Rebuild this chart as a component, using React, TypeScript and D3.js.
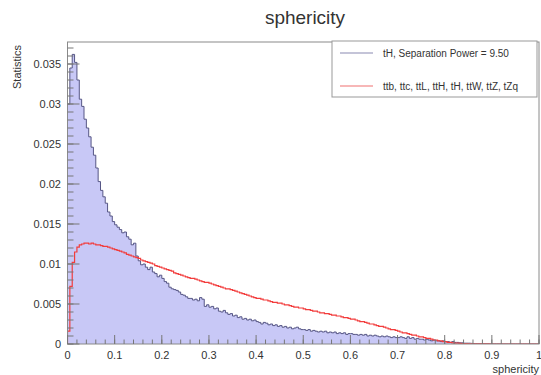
import React from "react";
import * as d3 from "d3";

// ---- data -------------------------------------------------------------
const binEdgesRange: [number, number] = [0, 1];
const nBins = 200;

// tH signal (blue, filled)
const signalValues: number[] = [
  0.0300, 0.0345, 0.0362, 0.0352, 0.0330, 0.0306, 0.0297, 0.0281, 0.0270, 0.0259,
  0.0246, 0.0236, 0.0220, 0.0203, 0.0192, 0.0184, 0.0176, 0.0165, 0.0160, 0.0153,
  0.0149, 0.0146, 0.0143, 0.0139, 0.0140, 0.0134, 0.0131, 0.0124, 0.0126, 0.0110,
  0.0104, 0.0099, 0.0100, 0.0096, 0.0093, 0.0096, 0.0090, 0.0088, 0.0084, 0.0086,
  0.0082, 0.0078, 0.0076, 0.0071, 0.0069, 0.0068, 0.0067, 0.0065, 0.0062, 0.0061,
  0.0059, 0.0057, 0.0057, 0.0055, 0.0056, 0.0054, 0.0058, 0.0056, 0.0047, 0.0049,
  0.0046, 0.0047, 0.0044, 0.0045, 0.0041, 0.0040, 0.0042, 0.0039, 0.0037, 0.0038,
  0.0035, 0.0036, 0.0033, 0.0034, 0.0031, 0.0032, 0.0030, 0.0031, 0.0029, 0.0030,
  0.0028, 0.0027, 0.0025, 0.0027, 0.0026, 0.0024, 0.0025, 0.0023, 0.0024, 0.0022,
  0.0023, 0.0021, 0.0022, 0.0020, 0.0021, 0.0019, 0.0020, 0.0021, 0.0019, 0.0018,
  0.0018, 0.0017, 0.0018, 0.0016, 0.0017, 0.0016, 0.0015, 0.0016, 0.0015, 0.0016,
  0.0014, 0.0015, 0.0014, 0.0015, 0.0013, 0.0014, 0.0013, 0.0014, 0.0012, 0.0013,
  0.0013, 0.0012, 0.0012, 0.0011, 0.0012, 0.0011, 0.0012, 0.0010, 0.0011, 0.0010,
  0.0011, 0.0010, 0.0009, 0.0010, 0.0009, 0.0010, 0.0009, 0.0008, 0.0009, 0.0008,
  0.0008, 0.0009, 0.0008, 0.0007, 0.0009, 0.0007, 0.0008, 0.0006, 0.0007, 0.0006,
  0.0006, 0.0005, 0.0006, 0.0005, 0.0004, 0.0005, 0.0004, 0.0004, 0.0003, 0.0004,
  0.0003, 0.0003, 0.0002, 0.0003, 0.0002, 0.0002, 0.00015, 0.00015, 0.0001, 0.0001,
  0.0001, 0.00008, 0.00006, 0.00005, 0.00004, 0.00003, 0.00003, 0.00002, 0.00002, 0.00001,
  0.00001, 0.00001, 0.00001, 0.000005, 0.000005, 0, 0, 0, 0, 0,
  0, 0, 0, 0, 0, 0, 0, 0, 0, 0,
];

// backgrounds (red line)
const backgroundValues: number[] = [
  0.0016, 0.0072, 0.0102, 0.0115, 0.0121, 0.0124, 0.0125, 0.0126, 0.0126, 0.0125,
  0.0126, 0.0125, 0.0124, 0.0124, 0.0123, 0.0122, 0.0122, 0.0121, 0.0120, 0.0119,
  0.0118, 0.0117, 0.0116, 0.0115, 0.0114, 0.0112, 0.0111, 0.0110, 0.0109, 0.0108,
  0.0107, 0.0105, 0.0104, 0.0103, 0.0102, 0.0101, 0.0100, 0.0098, 0.0097, 0.0096,
  0.0095, 0.0094, 0.0093, 0.0092, 0.0091, 0.0089, 0.0088, 0.0087, 0.0086, 0.0085,
  0.0084, 0.0083, 0.0082, 0.0082, 0.0081, 0.0080, 0.0079, 0.0078, 0.0077, 0.0077,
  0.0076, 0.0075, 0.0074, 0.0073, 0.0072, 0.0071, 0.0070, 0.0069, 0.0069, 0.0068,
  0.0067, 0.0066, 0.0065, 0.0064, 0.0063, 0.0062, 0.0061, 0.0060, 0.0059, 0.0058,
  0.0057, 0.0057, 0.0056, 0.0055, 0.0055, 0.0054, 0.0053, 0.0052, 0.0052, 0.0051,
  0.0051, 0.0050, 0.0049, 0.0049, 0.0048, 0.0047, 0.0046, 0.0046, 0.0045, 0.0045,
  0.0044, 0.0043, 0.0043, 0.0042, 0.0041, 0.0041, 0.0040, 0.0039, 0.0039, 0.0038,
  0.0038, 0.0037, 0.0036, 0.0036, 0.0035, 0.0035, 0.0034, 0.0033, 0.0033, 0.0032,
  0.0031, 0.0031, 0.0030, 0.0029, 0.0028, 0.0028, 0.0027, 0.0026, 0.0025, 0.0025,
  0.0024, 0.0023, 0.0022, 0.0022, 0.0021, 0.0020, 0.0019, 0.0018, 0.0018, 0.0017,
  0.0016, 0.0015, 0.0014, 0.0014, 0.0013, 0.0012, 0.0011, 0.0011, 0.0010, 0.0009,
  0.0009, 0.0008, 0.0007, 0.0007, 0.0006, 0.0005, 0.0005, 0.0004, 0.0004, 0.0003,
  0.0003, 0.0002, 0.0002, 0.00015, 0.00012, 0.0001, 0.00008, 0.00006, 0.00005, 0.00004,
  0.00003, 0.00003, 0.00002, 0.00002, 0.00001, 0.00001, 0.00001, 0.000005, 0.000005, 0,
  0, 0, 0, 0, 0, 0, 0, 0, 0, 0,
  0, 0, 0, 0, 0, 0, 0, 0, 0, 0,
];

const xTickValues = [0, 0.1, 0.2, 0.3, 0.4, 0.5, 0.6, 0.7, 0.8, 0.9, 1];
const xTickLabels = ["0", "0.1", "0.2", "0.3", "0.4", "0.5", "0.6", "0.7", "0.8", "0.9", "1"];
const yTickValues = [0, 0.005, 0.01, 0.015, 0.02, 0.025, 0.03, 0.035];
const yTickLabels = ["0", "0.005", "0.01", "0.015", "0.02", "0.025", "0.03", "0.035"];
const legendLabels = ["tH, Separation Power = 9.50", "ttb, ttc, ttL, ttH, tH, ttW, ttZ, tZq"];
const titleText = "sphericity";
const xTitle = "sphericity";
const yTitle = "Statistics";

// ---- layout -----------------------------------------------------------
const W = 541;
const H = 375;
const frame = { left: 67.5, right: 539, top: 42, bottom: 344 };
const yMax = 0.03775;
const FONT = "'Liberation Sans', Arial, Helvetica, sans-serif";
const TEXT = "#333";

export default function App() {
  const x = d3.scaleLinear().domain(binEdgesRange).range([frame.left, frame.right]);
  const y = d3.scaleLinear().domain([0, yMax]).range([frame.bottom, frame.top]);
  const bw = (binEdgesRange[1] - binEdgesRange[0]) / nBins;

  const stepPts = (vals: number[]): [number, number][] => {
    const pts: [number, number][] = [[binEdgesRange[0], 0]];
    vals.forEach((v, i) => {
      pts.push([binEdgesRange[0] + i * bw, v]);
      pts.push([binEdgesRange[0] + (i + 1) * bw, v]);
    });
    pts.push([binEdgesRange[1], 0]);
    return pts;
  };

  const line = d3.line<[number, number]>().x((d) => x(d[0])).y((d) => y(d[1]));
  const area = d3
    .area<[number, number]>()
    .x((d) => x(d[0]))
    .y0(y(0))
    .y1((d) => y(d[1]));

  const sigPts = stepPts(signalValues);
  const bkgPts = stepPts(backgroundValues);

  const xMinor = d3.range(0, 51).map((i) => i * 0.02);
  const yMinor = d3.range(0, 38).map((i) => i * 0.001);

  const legend = { x0: 332, y0: 41, x1: 537, y1: 97 };

  return (
    <svg
      width={W}
      height={H}
      style={{ position: "absolute", left: 0, top: 0, background: "#fff" }}
      fontFamily={FONT}
    >
      <rect x={0} y={0} width={W} height={H} fill="#fff" />
      <text x={305} y={24} textAnchor="middle" fontSize={19} fill={TEXT}>
        {titleText}
      </text>

      <defs>
        <clipPath id="frameClip">
          <rect x={frame.left} y={frame.top} width={frame.right - frame.left} height={frame.bottom - frame.top} />
        </clipPath>
      </defs>

      <g clipPath="url(#frameClip)">
        <path d={area(sigPts) || ""} fill="#c8c8f6" stroke="none" />
        <path d={line(sigPts) || ""} fill="none" stroke="#565685" strokeWidth={1} />
        <path d={line(bkgPts) || ""} fill="none" stroke="#f23c3c" strokeWidth={1.2} />
      </g>

      {/* frame */}
      <rect
        x={frame.left}
        y={frame.top}
        width={frame.right - frame.left}
        height={frame.bottom - frame.top}
        fill="none"
        stroke="#8a8a8a"
        strokeWidth={1}
      />

      {/* x axis ticks */}
      {xMinor.map((v, i) => (
        <line key={"xm" + i} x1={x(v)} x2={x(v)} y1={frame.bottom} y2={frame.bottom - 4.5} stroke="#777" />
      ))}
      {xTickValues.map((v, i) => (
        <line key={"xM" + i} x1={x(v)} x2={x(v)} y1={frame.bottom} y2={frame.bottom - 9} stroke="#777" />
      ))}
      {xTickValues.map((v, i) => (
        <text key={"xl" + i} x={x(v)} y={359} textAnchor="middle" fontSize={11} fill={TEXT}>
          {xTickLabels[i]}
        </text>
      ))}
      <text x={frame.right} y={373} textAnchor="end" fontSize={11} fill={TEXT}>
        {xTitle}
      </text>

      {/* y axis ticks */}
      {yMinor.map((v, i) => (
        <line key={"ym" + i} x1={frame.left} x2={frame.left + 6} y1={y(v)} y2={y(v)} stroke="#777" />
      ))}
      {yTickValues.map((v, i) => (
        <line key={"yM" + i} x1={frame.left} x2={frame.left + 12} y1={y(v)} y2={y(v)} stroke="#777" />
      ))}
      {yTickValues.map((v, i) => (
        <text key={"yl" + i} x={61} y={y(v) + 4} textAnchor="end" fontSize={11} fill={TEXT}>
          {yTickLabels[i]}
        </text>
      ))}
      <text
        transform={`translate(21, ${frame.top + 3}) rotate(-90)`}
        textAnchor="end"
        fontSize={11}
        fill={TEXT}
      >
        {yTitle}
      </text>

      {/* legend */}
      <rect
        x={legend.x0}
        y={legend.y0}
        width={legend.x1 - legend.x0}
        height={legend.y1 - legend.y0}
        fill="#fff"
        stroke="#999"
        strokeWidth={1}
      />
      <line x1={340} x2={373} y1={53} y2={53} stroke="#8a8ab2" strokeWidth={1.2} />
      <line x1={340} x2={373} y1={86} y2={86} stroke="#f07070" strokeWidth={1.2} />
      <text x={383} y={57} fontSize={10} fill={TEXT}>
        {legendLabels[0]}
      </text>
      <text x={383} y={90} fontSize={10} fill={TEXT}>
        {legendLabels[1]}
      </text>
    </svg>
  );
}
